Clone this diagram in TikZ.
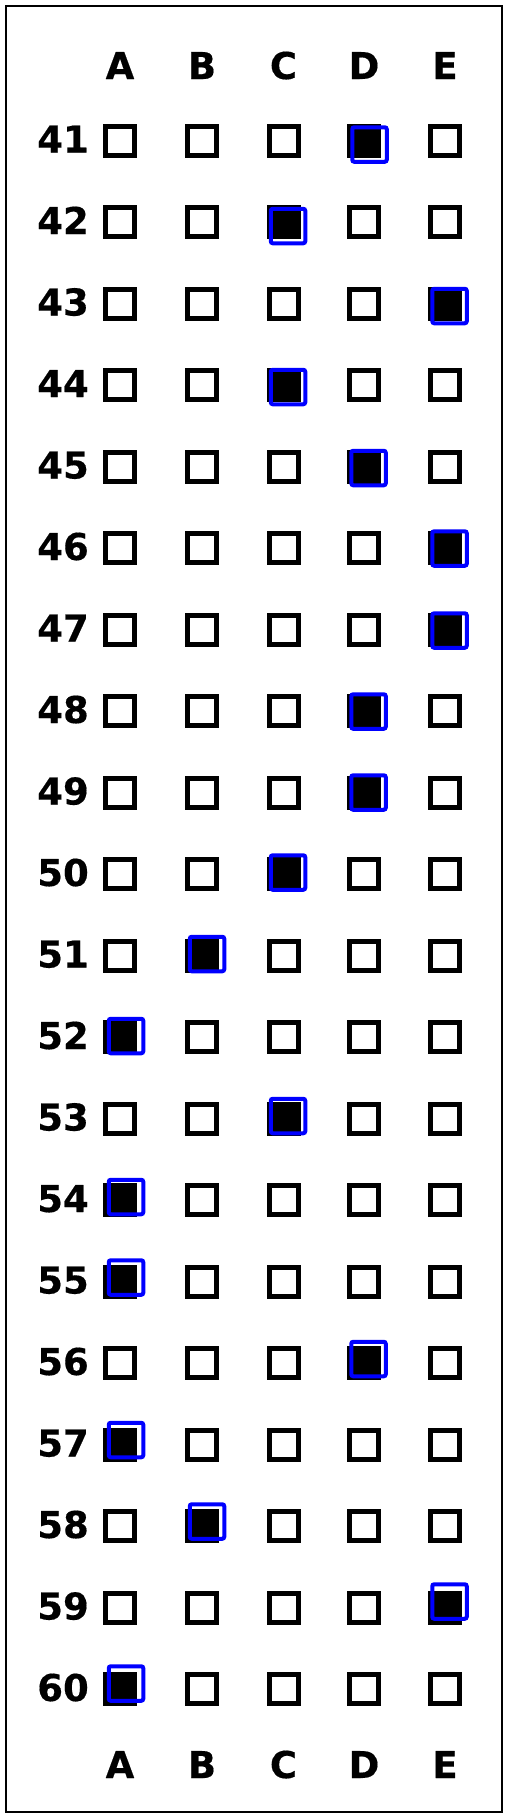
\documentclass[tikz,border=0pt]{standalone}
\usepackage{fontspec}
\setmainfont{DejaVu Sans}[BoldFeatures={FakeBold=0.4}]
\begin{document}
\begin{tikzpicture}[x=1pt,y=-1pt,
  lbl/.style={font=\fontsize{37}{37}\selectfont\bfseries, inner sep=0pt, anchor=base},
  num/.style={lbl, anchor=base east},
  box/.style={rectangle, draw=black, line width=5pt, minimum size=29pt, inner sep=0pt},
  filled/.style={box, fill=black},
  pick/.style={rectangle, draw=blue, line width=4pt, minimum size=34.5pt, inner sep=0pt, rounded corners=2pt}]
\useasboundingbox (0,0) rectangle (508,1818);
\node[rectangle, draw=black, line width=1.5pt, minimum width=496pt, minimum height=1806pt, inner sep=0pt] (frame) at (254,909) {};
\foreach \c/\x in {A/120,B/202,C/283.5,D/364,E/445} {
  \node[lbl] (top\c) at (\x,79) {\c};
  \node[lbl] (bot\c) at (\x,1778) {\c};
}
\foreach \r in {41,...,60} {
  \pgfmathsetmacro\yy{140.5+(\r-41)*81.5}
  \node[num] (n\r) at (89,\yy+12) {\r};
  \foreach \c/\x in {A/120,B/202,C/283.5,D/364,E/445} {
    \node[box] (b\r\c) at (\x,\yy) {};
  }
}
\foreach \r/\c/\x/\dx/\dy in {41/D/364/5.5/4, 42/C/283.5/4.5/4, 43/E/445/4.5/2.5,
  44/C/283.5/4.5/2, 45/D/364/4.5/1.5, 46/E/445/4.5/0.5, 47/E/445/4.5/1,
  48/D/364/4.5/0.5, 49/D/364/4.5/0, 50/C/283.5/4.5/-1.5, 51/B/202/5/-1.5,
  52/A/120/6/-1, 53/C/283.5/4.5/-2.5, 54/A/120/6/-3, 55/A/120/6/-4,
  56/D/364/4.5/-4, 57/A/120/6/-4.5, 58/B/202/5/-4.5, 59/E/445/4.5/-6,
  60/A/120/6/-5.5} {
  \pgfmathsetmacro\yy{140.5+(\r-41)*81.5}
  \node[filled] (f\r) at (\x,\yy) {};
  \node[pick] (p\r) at (\x+\dx,\yy+\dy) {};
}
\end{tikzpicture}
\end{document}
